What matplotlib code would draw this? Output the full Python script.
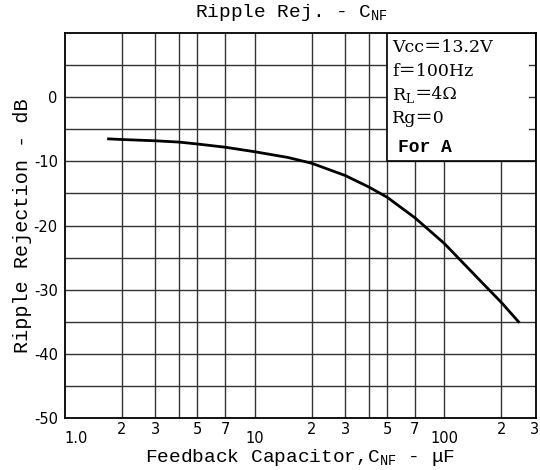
import matplotlib
matplotlib.use("Agg")
import matplotlib.pyplot as plt
from matplotlib.patches import Rectangle

# curve
cnf = [1.7, 2, 3, 4, 5, 7, 10, 15, 20, 30, 40, 50, 70, 100, 150, 200, 246]
ripple = [-6.5, -6.6, -6.8, -7.0, -7.3, -7.8, -8.5, -9.4, -10.3, -12.2,
          -14.0, -15.6, -18.8, -22.8, -28.2, -32.0, -35.0]

x_grid = [2, 3, 4, 5, 7, 10, 20, 30, 40, 50, 70, 100, 200]
y_grid = [-45, -40, -35, -30, -25, -20, -15, -10, -5, 0, 5]
y_ticks = [0, -10, -20, -30, -40, -50]
x_labels_small = [2, 3, 5, 7, 20, 30, 50, 70, 200, 300]
x_labels_decade = [10, 100]

conditions = ["Vcc＝13.2V", "f＝100Hz", None, "Rg＝0"]

mono = "Liberation Mono"
serif = ["DejaVu Serif", "Noto Sans CJK JP"]

fig = plt.figure(figsize=(5.4, 4.7), dpi=100)
ax = fig.add_axes([0.120, 0.1106, 0.873, 0.8192])
ax.set_xscale("log")
ax.set_xlim(1, 305)
ax.set_ylim(-50, 10)

for xv in x_grid:
    ax.axvline(xv, color="#333333", lw=1.0, zorder=1)
for yv in y_grid:
    ax.axhline(yv, color="#333333", lw=1.0, zorder=1)

# conditions box in the upper right corner
box = Rectangle((50, -10), 305 - 50, 20, facecolor="white", edgecolor="black",
                lw=1.2, zorder=2)
ax.add_patch(box)
for yv in [5, 0, -5]:
    ax.plot([280, 305], [yv, yv], color="#333333", lw=1.0, zorder=3)

ax.plot(cnf, ripple, color="black", lw=2.0, zorder=4)

for sp in ax.spines.values():
    sp.set_linewidth(1.3)
    sp.set_zorder(5)

ax.set_yticks(y_ticks)
ax.set_yticklabels([str(v) for v in y_ticks], fontsize=10.5)
ax.tick_params(axis="y", length=0, pad=5)
ax.set_xticks([])
ax.xaxis.set_minor_locator(matplotlib.ticker.NullLocator())

trans = ax.get_xaxis_transform()
for xv in x_labels_small:
    ax.text(xv, -0.01, str(xv)[0], transform=trans, ha="center", va="top",
            fontsize=10.5)
for xv in x_labels_decade:
    ax.text(xv, -0.033, str(xv), transform=trans, ha="center", va="top",
            fontsize=10.5)
ax.text(1.0, -0.033, "1.0", transform=trans, ha="left", va="top", fontsize=10.5)

tx = 53
for i, s in enumerate(conditions):
    yy = 7.7 - i * 3.7
    if s is None:
        # R_L line: subscript in mathtext, wide equals sign as plain text
        t1 = ax.text(tx, yy, "R$_\\mathregular{L}$", fontsize=12.5,
                     family="DejaVu Serif", va="center", ha="left", zorder=6)
        ax.annotate("＝4Ω", xy=(1, 1), xycoords=t1, va="top", ha="left",
                    fontsize=12.5, family=serif, zorder=6)
    else:
        ax.text(tx, yy, s, fontsize=12.5, family=serif,
                va="center", ha="left", zorder=6)
ax.text(tx + 4, -7.8, "For A", fontsize=13, family=mono, weight="bold",
        va="center", ha="left", zorder=6)

fig.text(0.54, 0.973, "Ripple Rej. - C$_\\mathregular{NF}$", ha="center", va="center",
         fontsize=14, family=mono)
fig.text(0.555, 0.026, "Feedback Capacitor,C$_\\mathregular{NF}$ - μF", ha="center",
         va="center", fontsize=14, family=mono)
fig.text(0.042, 0.52, "Ripple Rejection - dB", rotation=90, ha="center",
         va="center", fontsize=14.5, family=mono)

fig.savefig("out.png", dpi=100)
